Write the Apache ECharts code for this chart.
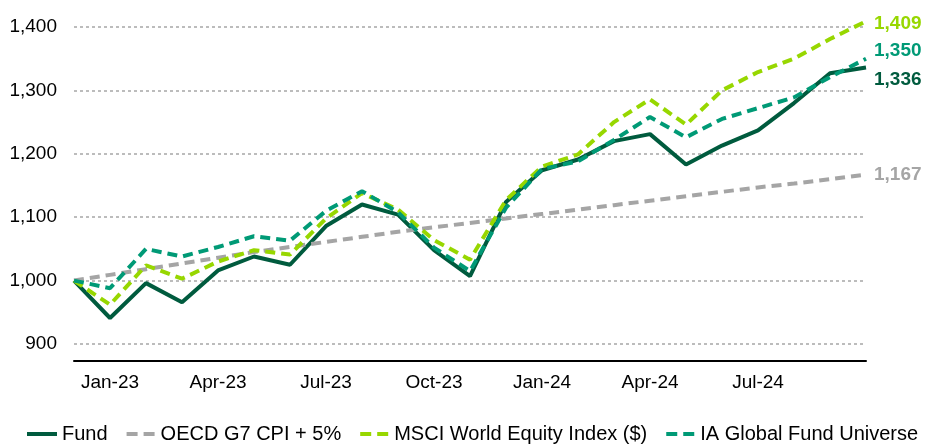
<!DOCTYPE html>
<html>
<head>
<meta charset="utf-8">
<script src="https://cdn.jsdelivr.net/npm/echarts@6/dist/echarts.min.js"></script>
<style>
  html, body { margin: 0; padding: 0; background: #fff; }
  #main { width: 925px; height: 446px; }
</style>
</head>
<body>
<div id="main"></div>
<script>
var months = ['Dec-22', 'Jan-23', 'Feb-23', 'Mar-23', 'Apr-23', 'May-23', 'Jun-23', 'Jul-23', 'Aug-23', 'Sep-23', 'Oct-23', 'Nov-23',
  'Dec-23', 'Jan-24', 'Feb-24', 'Mar-24', 'Apr-24', 'May-24', 'Jun-24', 'Jul-24', 'Aug-24', 'Sep-24', 'Oct-24'];
var fund = [1000, 941, 996, 966, 1016, 1038, 1025, 1086, 1120, 1104, 1048, 1007,
  1124, 1174, 1191, 1220, 1231, 1183, 1213, 1237, 1280, 1327, 1336];
var cpi = [1000, 1009, 1018, 1027, 1036, 1045, 1053, 1061, 1069, 1077, 1084, 1091,
  1098, 1105, 1112, 1119, 1126, 1133, 1140, 1147, 1153, 1160, 1167];
var msci = [1000, 962, 1024, 1003, 1030, 1048, 1041, 1098, 1138, 1112, 1064, 1033,
  1127, 1180, 1199, 1250, 1286, 1246, 1300, 1329, 1350, 1381, 1409];
var ia = [1000, 988, 1050, 1038, 1053, 1070, 1063, 1110, 1141, 1108, 1052, 1015,
  1115, 1176, 1188, 1222, 1258, 1226, 1255, 1272, 1289, 1321, 1350];

var FONT = 'Liberation Sans, Arial, sans-serif';
// two short bars, used as legend icon for the dashed lines
var DASH_ICON = 'path://M0,0h11v4h-11z M17,0h11v4h-11z';

function fmt(v) {
  var s = String(Math.round(v));
  return s.replace(/\B(?=(\d{3})+(?!\d))/g, ',');
}

function makeLine(name, data, color, dashed, labelOffset) {
  return {
    name: name,
    type: 'line',
    data: data,
    symbol: 'none',
    clip: false,
    lineStyle: { color: color, width: 4, type: dashed ? [10, 6] : 'solid' },
    itemStyle: { color: color },
    endLabel: {
      show: true,
      formatter: function (p) { return fmt(p.value); },
      color: color,
      fontFamily: FONT,
      fontSize: 19,
      fontWeight: 'bold',
      distance: 8,
      offset: labelOffset
    }
  };
}

var chart = echarts.init(document.getElementById('main'));
chart.setOption({
  animation: false,
  grid: { left: 74, right: 59, top: 27, bottom: 102, containLabel: false },
  legend: {
    left: 27,
    top: 424,
    width: 898,
    padding: 0,
    itemGap: 19,
    itemWidth: 30,
    itemHeight: 4,
    textStyle: { fontFamily: FONT, fontSize: 20, color: '#000' },
    data: [
      { name: 'Fund', icon: 'rect' },
      { name: 'OECD G7 CPI + 5%', icon: DASH_ICON },
      { name: 'MSCI World Equity Index ($)', icon: DASH_ICON },
      { name: 'IA Global Fund Universe', icon: DASH_ICON }
    ]
  },
  xAxis: {
    type: 'category',
    data: months,
    boundaryGap: false,
    offset: 17,
    axisLine: { lineStyle: { color: '#000', width: 2 } },
    axisTick: { show: false },
    axisLabel: {
      interval: function (idx) { return idx % 3 === 1 && idx < months.length - 1; },
      fontFamily: FONT,
      fontSize: 19,
      color: '#000',
      margin: 12
    },
    splitLine: { show: false }
  },
  yAxis: {
    type: 'value',
    min: 900,
    max: 1400,
    interval: 100,
    axisLine: { show: false },
    axisTick: { show: false },
    axisLabel: {
      formatter: function (v) { return fmt(v); },
      fontFamily: FONT,
      fontSize: 19,
      color: '#000',
      margin: 17
    },
    splitLine: { lineStyle: { color: '#a6a6a6', width: 1.5, type: [3, 3] } }
  },
  series: [
    makeLine('Fund', fund, '#005b3e', false, [0, 12]),
    makeLine('OECD G7 CPI + 5%', cpi, '#a5a5a5', true, [0, 0]),
    makeLine('MSCI World Equity Index ($)', msci, '#97d700', true, [0, 2]),
    makeLine('IA Global Fund Universe', ia, '#009a76', true, [0, -8])
  ]
});
</script>
</body>
</html>
